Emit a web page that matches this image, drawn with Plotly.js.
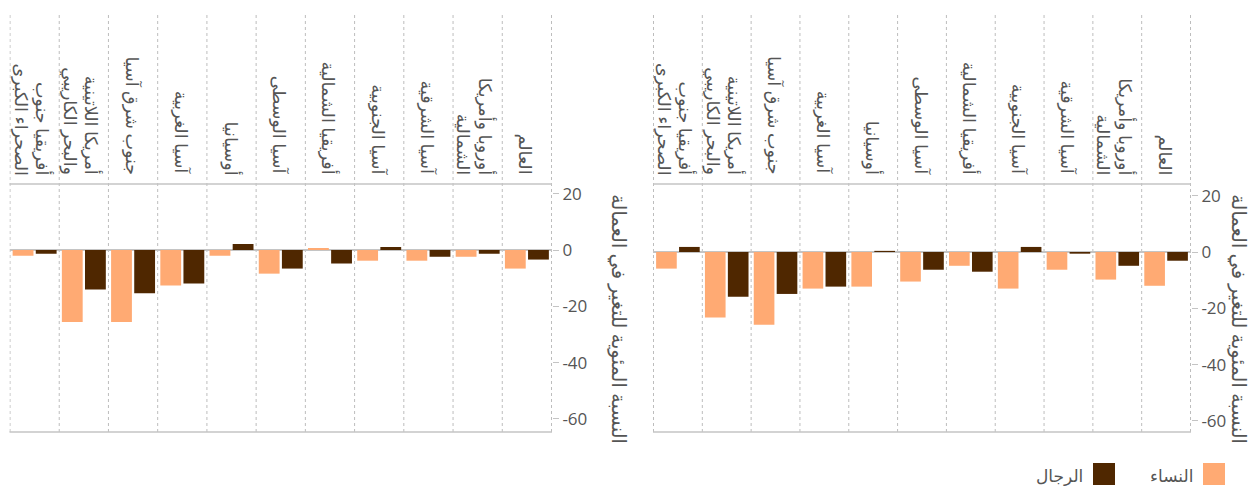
<!DOCTYPE html>
<html>
<head>
<meta charset="utf-8">
<script src="https://cdn.plot.ly/plotly-3.0.1.min.js"></script>
<style>
  html, body { margin: 0; padding: 0; background: #fff; }
  #chart { width: 1256px; height: 486px; }
</style>
</head>
<body>
<div id="chart"></div>
<script>
// Categories (right-to-left order: first one is drawn at the right)
const categories = ['العالم', 'أوروبا وأمريكا الشمالية', 'آسيا الشرقية', 'آسيا الجنوبية', 'أفريقيا الشمالية', 'آسيا الوسطى', 'أوسيانيا', 'آسيا الغربية', 'جنوب شرق آسيا', 'أمريكا اللاتينية والبحر الكاريبي', 'أفريقيا جنوب الصحراء الكبرى'];
const categoryLabels = ['العالم', 'أوروبا وأمريكا<br>الشمالية', 'آسيا الشرقية', 'آسيا الجنوبية', 'أفريقيا الشمالية', 'آسيا الوسطى', 'أوسيانيا', 'آسيا الغربية', 'جنوب شرق آسيا', 'أمريكا اللاتينية<br>والبحر الكاريبي', 'أفريقيا جنوب<br>الصحراء الكبرى'];

// Right panel
const rightWomen = [-12.0, -9.8, -6.3, -13.0, -4.9, -10.5, -12.3, -13.0, -25.8, -23.3, -5.9];
const rightMen   = [-3.1, -4.9, -0.6, 1.8, -7.0, -6.3, 0.4, -12.3, -14.9, -15.9, 1.8];
// Left panel
const leftWomen  = [-6.6, -2.4, -3.8, -3.8, 0.7, -8.4, -2.0, -12.6, -25.6, -25.6, -2.0];
const leftMen    = [-3.4, -1.3, -2.4, 1.1, -4.8, -6.6, 2.1, -11.9, -15.4, -14.0, -1.3];

const yTicks = [20, 0, -20, -40, -60];
const yTitle = 'النسبة المئوية للتغير في العمالة';
const womenName = 'النساء';
const menName = 'الرجال';

const womenColor = '#FFAA73';
const menColor = '#4F2700';
const textColor = '#555555';
const lineColor = '#C4C4C4';
const FONT = 'Open Sans, DejaVu Sans, sans-serif';

const W = 1256, H = 486;
const mT = 12, mB = 54;
const plotH = H - mT - mB;
const pxY = (py) => (H - mB - py) / plotH;   // page pixel y -> paper y
const pxX = (px) => px / W;

const traces = [
  {type: 'bar', x: categories, y: rightMen, name: menName, marker: {color: menColor}, xaxis: 'x', yaxis: 'y', showlegend: false, hoverinfo: 'y'},
  {type: 'bar', x: categories, y: rightWomen, name: womenName, marker: {color: womenColor}, xaxis: 'x', yaxis: 'y', showlegend: false, hoverinfo: 'y'},
  {type: 'bar', x: categories, y: leftMen, name: menName, marker: {color: menColor}, xaxis: 'x2', yaxis: 'y2', showlegend: false, hoverinfo: 'y'},
  {type: 'bar', x: categories, y: leftWomen, name: womenName, marker: {color: womenColor}, xaxis: 'x2', yaxis: 'y2', showlegend: false, hoverinfo: 'y'}
];

const pxPerUnit = 2.815;
const rightZero = 252, leftZero = 250;
const rightRange = [-(H - mB - rightZero) / pxPerUnit, (rightZero - mT) / pxPerUnit];
const leftRange = [-(H - mB - leftZero) / pxPerUnit, (leftZero - mT) / pxPerUnit];

const yAxisCommon = {
  side: 'right', tickvals: yTicks, ticktext: yTicks.map(String),
  ticks: 'outside', ticklen: 6, tickcolor: lineColor, tickwidth: 1,
  showgrid: false, zeroline: true, zerolinecolor: lineColor, zerolinewidth: 1.5,
  showline: false, tickfont: {family: FONT, size: 17, color: textColor},
  domain: [0, 1], fixedrange: true
};
const xAxisCommon = {
  type: 'category', autorange: 'reversed', showticklabels: false, showgrid: false,
  zeroline: false, showline: false, ticks: '', fixedrange: true
};

const layout = {
  width: W, height: H,
  margin: {l: 0, r: 0, t: mT, b: mB},
  paper_bgcolor: '#ffffff', plot_bgcolor: '#ffffff',
  font: {family: FONT, color: textColor},
  barmode: 'group', bargap: 0.06, bargroupgap: 0.1,
  showlegend: false,
  xaxis: Object.assign({}, xAxisCommon, {domain: [pxX(653), pxX(1191)], anchor: 'y'}),
  yaxis: Object.assign({}, yAxisCommon, {range: rightRange, anchor: 'x'}),
  xaxis2: Object.assign({}, xAxisCommon, {domain: [pxX(9.5), pxX(552)], anchor: 'y2'}),
  yaxis2: Object.assign({}, yAxisCommon, {range: leftRange, anchor: 'x2'}),
  shapes: [],
  annotations: []
};

const lineStep = 22;
// Dotted category boundary lines, frame lines
[['x', 'y'], ['x2', 'y2']].forEach(([xa, ya]) => {
  for (let i = 0; i <= categories.length; i++) {
    layout.shapes.push({type: 'line', xref: xa, yref: 'paper', x0: i - 0.5, x1: i - 0.5, y0: 0, y1: 1,
      line: {color: '#BDBDBD', width: 1, dash: 'dot'}, layer: 'below'});
  }
  layout.shapes.push({type: 'line', xref: xa + ' domain', yref: 'paper', x0: 0, x1: 1, y0: pxY(184), y1: pxY(184),
    line: {color: lineColor, width: 1.5}});
  layout.shapes.push({type: 'line', xref: xa + ' domain', yref: 'paper', x0: 0, x1: 1, y0: 0, y1: 0,
    line: {color: lineColor, width: 1.5}});
  // Category labels (rotated clockwise; first line on the right)
  categories.forEach((c, i) => {
    const lines = categoryLabels[i].split('<br>');
    const n = lines.length;
    lines.forEach((ln, k) => {
      layout.annotations.push({xref: xa, yref: 'paper', x: c, y: pxY(177), xanchor: 'center', yanchor: 'bottom',
        xshift: ((n - 1) / 2 - k) * lineStep - (n > 1 ? 2 : 0),
        text: ln, textangle: 90, showarrow: false,
        font: {family: FONT, size: 17.5, color: textColor}});
    });
  });
});

// Y axis titles (rotated clockwise)
[1240, 620].forEach((px) => {
  layout.annotations.push({xref: 'paper', yref: 'paper', x: pxX(px), y: pxY(319), xanchor: 'center', yanchor: 'middle',
    text: yTitle, textangle: 90, showarrow: false, font: {family: FONT, size: 19.5, color: textColor}});
});

// Custom legend (text to the left of swatch)
const legendItems = [[womenName, womenColor, 1203], [menName, menColor, 1093]];
legendItems.forEach(([name, color, px]) => {
  layout.shapes.push({type: 'rect', xref: 'paper', yref: 'paper', x0: pxX(px), x1: pxX(px + 22), y0: pxY(485), y1: pxY(463),
    fillcolor: color, line: {width: 0}});
  layout.annotations.push({xref: 'paper', yref: 'paper', x: pxX(px - 8), y: pxY(475), xanchor: 'right', yanchor: 'middle',
    text: name, showarrow: false, font: {family: FONT, size: 17, color: textColor}});
});

Plotly.newPlot('chart', traces, layout, {displayModeBar: false, staticPlot: true});
</script>
</body>
</html>
